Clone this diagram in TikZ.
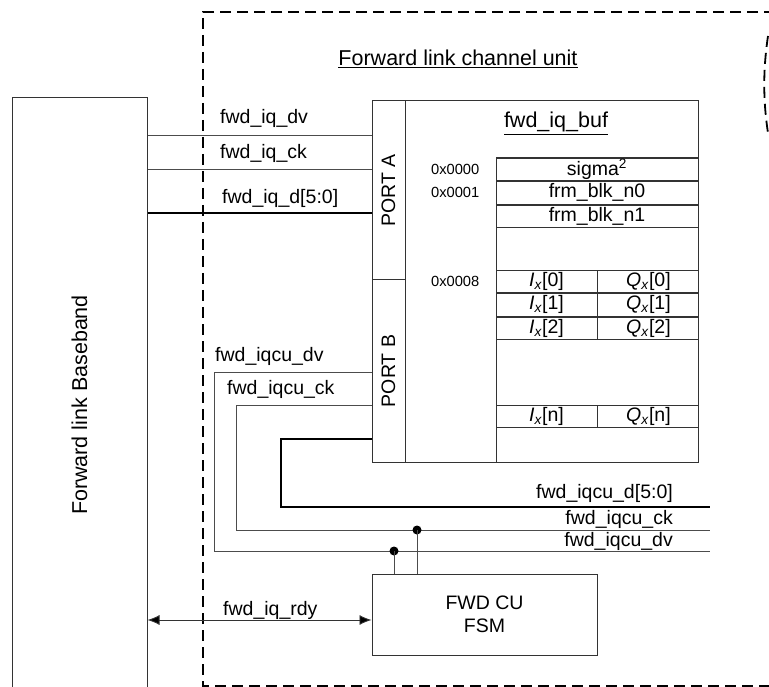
\documentclass[tikz,border=0pt]{standalone}
\usepackage{fontspec}
\setmainfont{Liberation Sans}
\usepackage{tikz}
\usetikzlibrary{arrows.meta, positioning}
\newcommand{\sigfont}{\fontsize{19.5}{23.4}\selectfont}
\newcommand{\addrfont}{\fontsize{14.7}{17.6}\selectfont}
\newcommand{\titlefont}{\fontsize{21.5}{25.8}\selectfont}
\newcommand{\iqx}[2]{\textit{#1}\textsubscript{\textit{x}}[#2]}

\begin{document}
\begin{tikzpicture}[
    x=1pt, y=-1pt,
    >={Latex[length=12pt, width=10pt, fill=black]},
    blk/.style={draw=black!80, line width=1pt, inner sep=0pt, font=\sigfont},
    cell/.style={draw=black!80, line width=0.9pt, inner sep=0pt, minimum height=22.6pt, font=\sigfont},
    wire/.style={draw=black!70, line width=0.9pt},
    bus/.style={draw=black, line width=2.2pt},
    lbl/.style={inner sep=0pt, font=\sigfont},
    addr/.style={inner sep=0pt, font=\addrfont},
    frame/.style={draw=black, line width=1.8pt, dash pattern=on 11pt off 6pt},
]
    \useasboundingbox (0,0) rectangle (769,687);
    \clip (0,0) rectangle (769,687);

    % Channel unit frame
    \draw[frame] (775,12) -| (203,686) -- (775,686);
    \draw[frame] (768,36) .. controls (763,70) and (763,100) .. (768,133);
    \node[lbl, font=\titlefont, anchor=base] (title) at (458,66) {\underline{Forward link channel unit}};

    % Baseband block
    \node[blk, minimum width=135pt, minimum height=614pt, font=\titlefont] (base) at (79.5,405) {\rotatebox{90}{Forward link Baseband}};

    % Buffer with two ports
    \node[blk, minimum width=326pt, minimum height=361pt] (buf) at (535,281.5) {};
    \node[blk, minimum width=33pt, minimum height=179pt] (porta) at (388.5,190.5) {\rotatebox{90}{PORT A}};
    \node[blk, minimum width=33pt, minimum height=182pt] (portb) at (388.5,371) {\rotatebox{90}{PORT B}};
    \node[lbl, font=\titlefont, anchor=base] (buftitle) at (556,128) {\underline{fwd\_iq\_buf}};

    % Memory map
    \node[blk, minimum width=202pt, minimum height=304pt] (tbl) at (597,310) {};
    \node[cell, minimum width=202pt] (sig) at (597,169.3) {sigma\textsuperscript{2}};
    \node[cell, minimum width=202pt, below=0pt of sig] (blk0) {frm\_blk\_n0};
    \node[cell, minimum width=202pt, below=0pt of blk0] (blk1) {frm\_blk\_n1};

    \node[cell, minimum width=101pt] (i0) at (546.5,281.3) {\iqx{I}{0}};
    \node[cell, minimum width=101pt, right=0pt of i0] (q0) {\iqx{Q}{0}};
    \node[cell, minimum width=101pt, below=0pt of i0] (i1) {\iqx{I}{1}};
    \node[cell, minimum width=101pt, right=0pt of i1] (q1) {\iqx{Q}{1}};
    \node[cell, minimum width=101pt, below=0pt of i1] (i2) {\iqx{I}{2}};
    \node[cell, minimum width=101pt, right=0pt of i2] (q2) {\iqx{Q}{2}};
    \node[cell, minimum width=101pt] (in) at (546.5,416.5) {\iqx{I}{n}};
    \node[cell, minimum width=101pt, right=0pt of in] (qn) {\iqx{Q}{n}};

    \node[addr, left=16pt of sig] (a0) {0x0000};
    \node[addr, left=16pt of blk0] (a1) {0x0001};
    \node[addr, left=16pt of i0] (a8) {0x0008};

    % Port A signals
    \draw[wire] (base.east |- 0,135) -- (porta.west |- 0,135);
    \draw[wire] (base.east |- 0,169) -- (porta.west |- 0,169);
    \draw[bus] (base.east |- 0,213) -- (porta.west |- 0,213);
    \node[lbl, anchor=base west] (sdv) at (220,124) {fwd\_iq\_dv};
    \node[lbl, anchor=base west] (sck) at (220,159) {fwd\_iq\_ck};
    \node[lbl, anchor=base west] (sd) at (222,204) {fwd\_iq\_d[5:0]};

    % FSM
    \node[blk, minimum width=225pt, minimum height=81pt, align=center] (fsm) at (484.5,614.5) {FWD CU\\FSM};

    % Port B signals
    \coordinate (dend) at (710,507);
    \coordinate (ckend) at (710,530);
    \coordinate (dvend) at (710,551);
    \draw[wire] (portb.west |- 0,372) -| (214,551) -- (dvend);
    \draw[wire] (portb.west |- 0,405) -| (236,530) -- (ckend);
    \draw[bus] (portb.west |- 0,439) -| (281,507) -- (dend);
    \node[lbl, anchor=base west] (cudv) at (215,361) {fwd\_iqcu\_dv};
    \node[lbl, anchor=base west] (cuck) at (227,394) {fwd\_iqcu\_ck};
    \node[lbl, anchor=base east] (cud2) at (673,498) {fwd\_iqcu\_d[5:0]};
    \node[lbl, anchor=base east] (cuck2) at (673,524) {fwd\_iqcu\_ck};
    \node[lbl, anchor=base east] (cudv2) at (673,546) {fwd\_iqcu\_dv};

    % Taps into the FSM
    \coordinate (tapdv) at (394,551);
    \coordinate (tapck) at (417,530);
    \fill (tapdv) circle (4.5pt);
    \fill (tapck) circle (4.5pt);
    \draw[wire] (tapdv) -- (fsm.north -| tapdv);
    \draw[wire] (tapck) -- (fsm.north -| tapck);

    % Ready handshake
    \draw[wire, draw=black!80, <->] (base.east |- 0,620) -- (fsm.west |- 0,620);
    \node[lbl, anchor=base west] (rdy) at (223,615) {fwd\_iq\_rdy};

\end{tikzpicture}
\end{document}
